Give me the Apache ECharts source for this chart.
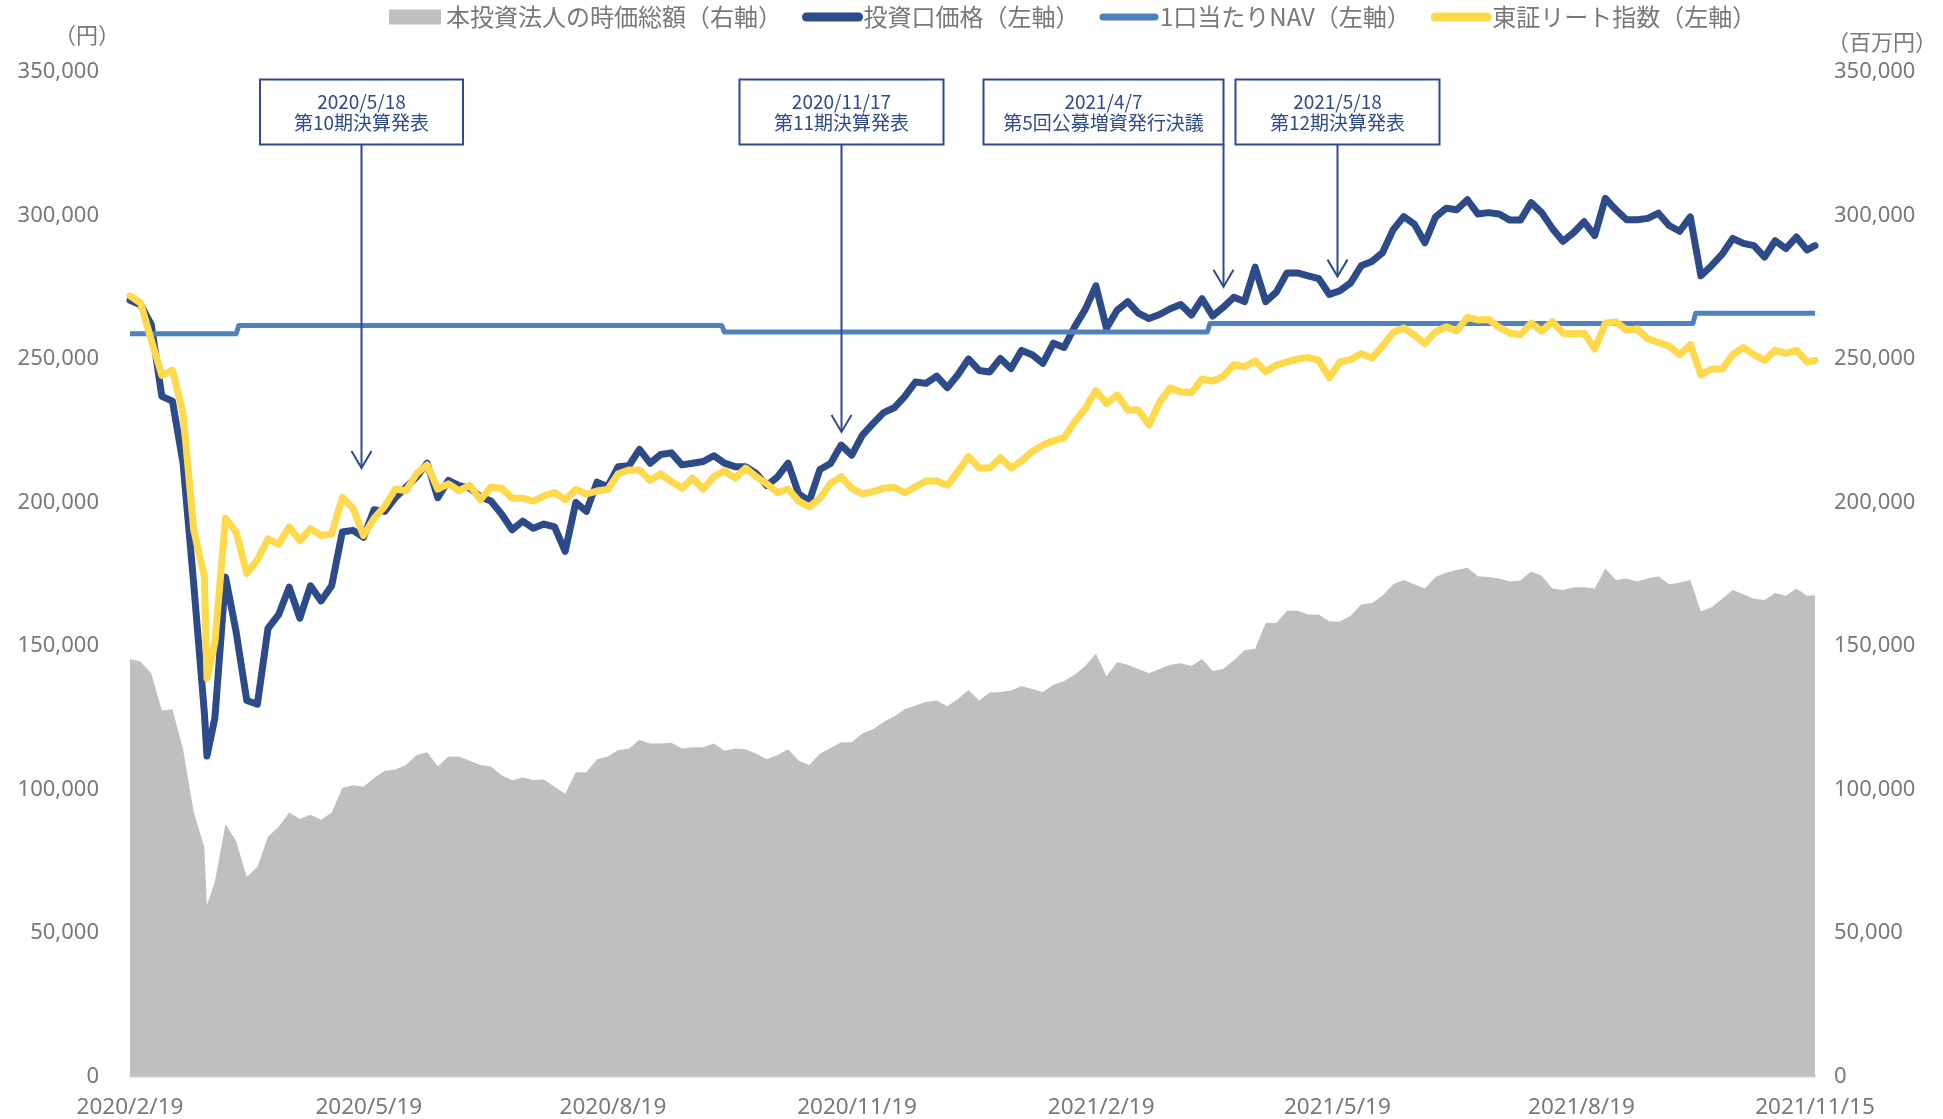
<!DOCTYPE html>
<html><head><meta charset="utf-8">
<script src="https://cdn.jsdelivr.net/npm/echarts@6/dist/echarts.min.js"></script>
<style>html,body{margin:0;padding:0;background:#fff}#c{width:1943px;height:1119px}</style>
</head><body><div id="c"></div>
<script>
// ---- data ----
const dates = ['2020-02-19','2020-02-23','2020-02-27','2020-03-02','2020-03-06','2020-03-10','2020-03-14','2020-03-18','2020-03-19',
'2020-03-22','2020-03-26','2020-03-30','2020-04-03','2020-04-07','2020-04-11','2020-04-15','2020-04-19','2020-04-23','2020-04-27',
'2020-05-01','2020-05-05','2020-05-09','2020-05-13','2020-05-17','2020-05-21','2020-05-25','2020-05-29','2020-06-02','2020-06-06',
'2020-06-10','2020-06-14','2020-06-18','2020-06-22','2020-06-26','2020-06-30','2020-07-04','2020-07-08','2020-07-12','2020-07-16',
'2020-07-20','2020-07-24','2020-07-28','2020-08-01','2020-08-05','2020-08-09','2020-08-13','2020-08-17','2020-08-21','2020-08-25',
'2020-08-29','2020-09-02','2020-09-06','2020-09-10','2020-09-14','2020-09-18','2020-09-22','2020-09-26','2020-09-30','2020-10-04',
'2020-10-08','2020-10-12','2020-10-16','2020-10-20','2020-10-24','2020-10-28','2020-11-01','2020-11-05','2020-11-09','2020-11-13',
'2020-11-17','2020-11-21','2020-11-25','2020-11-29','2020-12-03','2020-12-07','2020-12-11','2020-12-15','2020-12-19','2020-12-23',
'2020-12-27','2020-12-31','2021-01-04','2021-01-08','2021-01-12','2021-01-16','2021-01-20','2021-01-24','2021-01-28','2021-02-01',
'2021-02-05','2021-02-09','2021-02-13','2021-02-17','2021-02-21','2021-02-25','2021-03-01','2021-03-05','2021-03-09','2021-03-13',
'2021-03-17','2021-03-21','2021-03-25','2021-03-29','2021-04-02','2021-04-06','2021-04-10','2021-04-14','2021-04-18','2021-04-22',
'2021-04-26','2021-04-30','2021-05-04','2021-05-08','2021-05-12','2021-05-16','2021-05-20','2021-05-24','2021-05-28','2021-06-01',
'2021-06-05','2021-06-09','2021-06-13','2021-06-17','2021-06-21','2021-06-25','2021-06-29','2021-07-03','2021-07-07','2021-07-11',
'2021-07-15','2021-07-19','2021-07-23','2021-07-27','2021-07-31','2021-08-04','2021-08-08','2021-08-12','2021-08-16','2021-08-20',
'2021-08-24','2021-08-28','2021-09-01','2021-09-05','2021-09-09','2021-09-13','2021-09-17','2021-09-21','2021-09-25','2021-09-29',
'2021-10-03','2021-10-07','2021-10-11','2021-10-15','2021-10-19','2021-10-23','2021-10-27','2021-10-31','2021-11-04','2021-11-08',
'2021-11-12','2021-11-15'];

// 投資口価格 (円)
const price = [270500,268900,262000,237000,235300,213700,171700,127000,111700,
125000,174000,154900,131000,129700,156100,160900,170500,159700,171000,
165700,171000,189700,190300,187900,197500,196900,201700,205300,208900,
213700,201700,207700,205900,205000,202000,200500,196000,190500,193500,
191000,192500,191500,183000,200000,196900,207100,205500,212500,212800,
218500,213700,216700,217300,213100,213700,214300,216300,213700,212500,
212500,210100,205900,208900,213700,203000,200500,211500,213600,220000,
216500,223500,227500,231300,233000,237000,242000,241500,244000,240000,
244500,250000,246000,245500,250200,246700,253000,251500,248500,255500,
254000,261200,267300,275500,260700,267000,270000,266000,264100,265500,
267500,269000,265300,271000,265000,268000,271500,270000,282000,270000,
273300,280000,280000,279000,278000,272500,273800,276500,282500,284000,
287000,295000,299600,297000,290500,299500,302500,302000,305500,300500,
301000,300500,298400,298400,304500,301000,295500,291000,294000,297800,
293000,306000,302000,298500,298500,299000,300800,296500,294500,299500,
279000,282500,286500,292000,290300,289500,285500,291200,288500,292500,
288000,289500];

// 東証リート指数 (左軸スケール)
const reit = [272000,269500,256600,244300,246100,231100,190500,174300,138700,
151300,194500,189700,175300,180000,187300,185500,191500,186700,190900,
188500,189100,201700,198100,188500,194500,198700,204700,204100,210100,
213100,204700,206500,204100,206000,201000,205300,205000,201500,201500,
200500,202300,203500,201000,204500,203000,204000,204500,210000,211300,
211300,207700,210000,207300,205000,208500,204700,209000,211000,208500,
212000,209000,206500,203500,204700,200500,198500,201500,206700,209000,
204900,203000,203800,205000,205300,203400,205500,207500,207500,206000,
210800,216000,212000,212000,215600,212000,214500,217800,220000,221500,
222600,228100,232800,239000,234500,237500,232200,232200,227000,235000,
240000,238500,238300,243000,242300,244000,248000,247300,249300,245600,
247900,249000,250000,250500,249500,243500,249000,249800,251900,250300,
254500,259300,260800,258300,255400,259500,261200,259800,264500,263600,
263800,261000,259000,258500,262500,259700,263000,259000,258800,259000,
253500,262500,263000,260000,260500,257000,255800,254500,251500,255000,
244500,246500,246500,251500,254000,251500,249600,253000,252000,253000,
249000,249500];

// 本投資法人の時価総額 (百万円)
const mcap = [145500,144500,140500,127500,128000,114000,92200,80000,59700,
68000,88000,82000,69500,73000,83500,87000,92000,89700,91200,
89500,92000,100500,101500,101000,104000,106500,107000,108500,112000,
113000,108000,111500,111500,110000,108500,108000,105000,103200,104200,
103300,103500,101000,98500,106000,106000,110500,111500,113800,114200,
117300,116000,116000,116300,114300,114700,114700,116000,113500,114300,
114000,112500,110500,112000,114000,110000,108500,112500,114500,116500,
116500,119500,121000,123500,125500,128000,129300,130500,131000,129000,
131500,134700,131000,133800,134000,134500,136000,135000,134000,136500,
137800,140000,143000,147300,139500,144300,143500,142000,140500,142000,
143500,144000,143000,145500,141300,142000,145000,148500,149000,158000,
158000,162300,162300,161000,161000,158500,158500,160500,164500,165000,
167500,171500,173000,171500,170000,174000,175500,176500,177300,174300,
174000,173500,172500,172800,176000,174500,170000,169500,170500,170500,
170000,177000,173000,173500,172500,173500,174300,171500,172000,173000,
162000,163500,166500,169500,168000,166500,166000,168500,167500,170000,
167500,167700];

// 1口当たりNAV (円) – step changes
const navDates = ['2020-02-19','2020-03-30','2020-03-31','2020-09-29','2020-09-30','2021-03-31','2021-04-01','2021-09-30','2021-10-01','2021-11-15'];
const navValues = [258800,258800,261700,261700,259400,259400,262400,262400,265900,265900];

const seriesNames = ['本投資法人の時価総額（右軸）','投資口価格（左軸）','1口当たりNAV（左軸）','東証リート指数（左軸）'];
const xTickDates = ['2020-02-19','2020-05-19','2020-08-19','2020-11-19','2021-02-19','2021-05-19','2021-08-19','2021-11-15'];
const yMin = 0, yMax = 350000, yStep = 50000;
const axisNames = ['（円）','（百万円）'];

// annotations
const annDates = ['2020-05-16','2020-11-13','2021-04-06','2021-05-19'];
const annTips = [212000,224600,275200,278700];
const annTexts = [['2020/5/18','第10期決算発表'],['2020/11/17','第11期決算発表'],['2021/4/7','第5回公募増資発行決議'],['2021/5/18','第12期決算発表']];

// ---- chart ----
const ts = s => { const p = s.split('-').map(Number); return new Date(p[0], p[1]-1, p[2]).getTime(); };
const fmtDate = v => { const d = new Date(Math.round(v)); return d.getFullYear() + '/' + (d.getMonth()+1) + '/' + d.getDate(); };
const fmtNum = v => Number(v).toLocaleString('en-US');

const C_AREA = '#bfbfbf', C_PRICE = '#2d4a89', C_NAV = '#4f81bd', C_REIT = '#fdd94b', C_TEXT = '#787878', C_ANN = '#2f4b8a';
const LATIN = '"Noto Sans", "Noto Sans CJK JP", sans-serif';
const CJK = '"Noto Sans CJK JP", "Noto Sans", sans-serif';

const chart = echarts.init(document.getElementById('c'), null, {renderer: 'canvas'});
const hideSym = {color: 'rgba(0,0,0,0)', borderColor: 'rgba(0,0,0,0)', borderWidth: 0, opacity: 0};

const yAxisCommon = {
  type: 'value', min: yMin, max: yMax, interval: yStep,
  splitLine: {show: false}, axisLine: {show: false}, axisTick: {show: false},
  axisLabel: {color: C_TEXT, fontSize: 22, fontFamily: LATIN, formatter: fmtNum}
};

chart.setOption({
  animation: false,
  backgroundColor: '#ffffff',
  grid: {left: 130, right: 128, top: 72, bottom: 42.5, containLabel: false, outerBoundsMode: 'none'},
  legend: {
    left: 384, top: 0, itemWidth: 52, itemHeight: 15, itemGap: 20,
    textStyle: {color: C_TEXT, fontSize: 24, fontFamily: CJK},
    data: [
      {name: seriesNames[0], icon: 'rect', itemStyle: {color: C_AREA}},
      {name: seriesNames[1], itemStyle: hideSym, lineStyle: {width: 9, color: C_PRICE, cap: 'round'}},
      {name: seriesNames[2], itemStyle: hideSym, lineStyle: {width: 7, color: C_NAV, cap: 'round'}},
      {name: seriesNames[3], itemStyle: hideSym, lineStyle: {width: 9, color: C_REIT, cap: 'round'}}
    ]
  },
  xAxis: {
    type: 'value', min: ts(dates[0]), max: ts(dates[dates.length-1]),
    splitLine: {show: false}, axisTick: {show: false},
    axisLine: {show: true, lineStyle: {color: '#d9d9d9', width: 2.5}},
    axisLabel: {
      customValues: xTickDates.map(ts), formatter: fmtDate,
      color: C_TEXT, fontSize: 22.5, fontFamily: LATIN, margin: 20,
      alignMinLabel: 'center', alignMaxLabel: 'center', hideOverlap: false, showMinLabel: true, showMaxLabel: true
    }
  },
  yAxis: [
    Object.assign({}, yAxisCommon, {position: 'left', name: axisNames[0], nameLocation: 'end', nameGap: 37,
      nameTextStyle: {color: C_TEXT, fontSize: 22, fontFamily: CJK, align: 'center', verticalAlign: 'middle', padding: [0, 86, 0, 0]},
      axisLabel: Object.assign({}, yAxisCommon.axisLabel, {margin: 31})}),
    Object.assign({}, yAxisCommon, {position: 'right', name: axisNames[1], nameLocation: 'end', nameGap: 30,
      nameTextStyle: {color: C_TEXT, fontSize: 22, fontFamily: CJK, align: 'center', verticalAlign: 'middle', padding: [0, 0, 0, 134]},
      axisLabel: Object.assign({}, yAxisCommon.axisLabel, {margin: 19})})
  ],
  series: [
    {name: seriesNames[0], type: 'line', yAxisIndex: 1, symbol: 'none', silent: true, color: C_AREA,
     lineStyle: {width: 0, color: C_AREA}, areaStyle: {color: C_AREA, opacity: 1},
     data: dates.map((d, i) => [ts(d), mcap[i]]), z: 1},
    {name: seriesNames[1], type: 'line', yAxisIndex: 0, symbol: 'none', silent: true, color: C_PRICE,
     lineStyle: {width: 7, color: C_PRICE, join: 'round', cap: 'round'},
     data: dates.map((d, i) => [ts(d), price[i]]), z: 2},
    {name: seriesNames[2], type: 'line', yAxisIndex: 0, symbol: 'none', silent: true, color: C_NAV,
     lineStyle: {width: 5, color: C_NAV, join: 'round'},
     data: navDates.map((d, i) => [ts(d), navValues[i]]), z: 3},
    {name: seriesNames[3], type: 'line', yAxisIndex: 0, symbol: 'none', silent: true, color: C_REIT,
     lineStyle: {width: 7, color: C_REIT, join: 'round', cap: 'round'},
     data: dates.map((d, i) => [ts(d), reit[i]]), z: 4}
  ]
});

// annotation boxes & arrows, anchored through the axes
const boxW = [203, 204, 240, 204];
const boxTop = 79.5, boxH = 65;
const g = [];
annDates.forEach((d, k) => {
  const p = chart.convertToPixel({xAxisIndex: 0, yAxisIndex: 0}, [ts(d), annTips[k]]);
  const ax = Math.round(p[0]) + 0.5, ay = p[1];
  const bx = k === 2 ? ax - boxW[k] : ax - boxW[k] / 2;
  g.push({type: 'line', z: 100, shape: {x1: ax, y1: boxTop + boxH, x2: ax, y2: ay}, style: {stroke: C_ANN, lineWidth: 2}});
  g.push({type: 'polyline', z: 100, shape: {points: [[ax - 10, ay - 17], [ax, ay], [ax + 10, ay - 17]]}, style: {stroke: C_ANN, lineWidth: 2, fill: null}});
  g.push({type: 'rect', z: 101, shape: {x: bx, y: boxTop, width: boxW[k], height: boxH}, style: {fill: '#ffffff', stroke: C_ANN, lineWidth: 2}});
  g.push({type: 'text', z: 102, style: {text: annTexts[k].join('\n'), x: bx + boxW[k] / 2, y: boxTop + boxH / 2 + 0.5,
    align: 'center', verticalAlign: 'middle', fill: C_ANN, fontSize: 19, fontFamily: CJK, lineHeight: 21}});
});
chart.setOption({graphic: g});
</script>
</body></html>
